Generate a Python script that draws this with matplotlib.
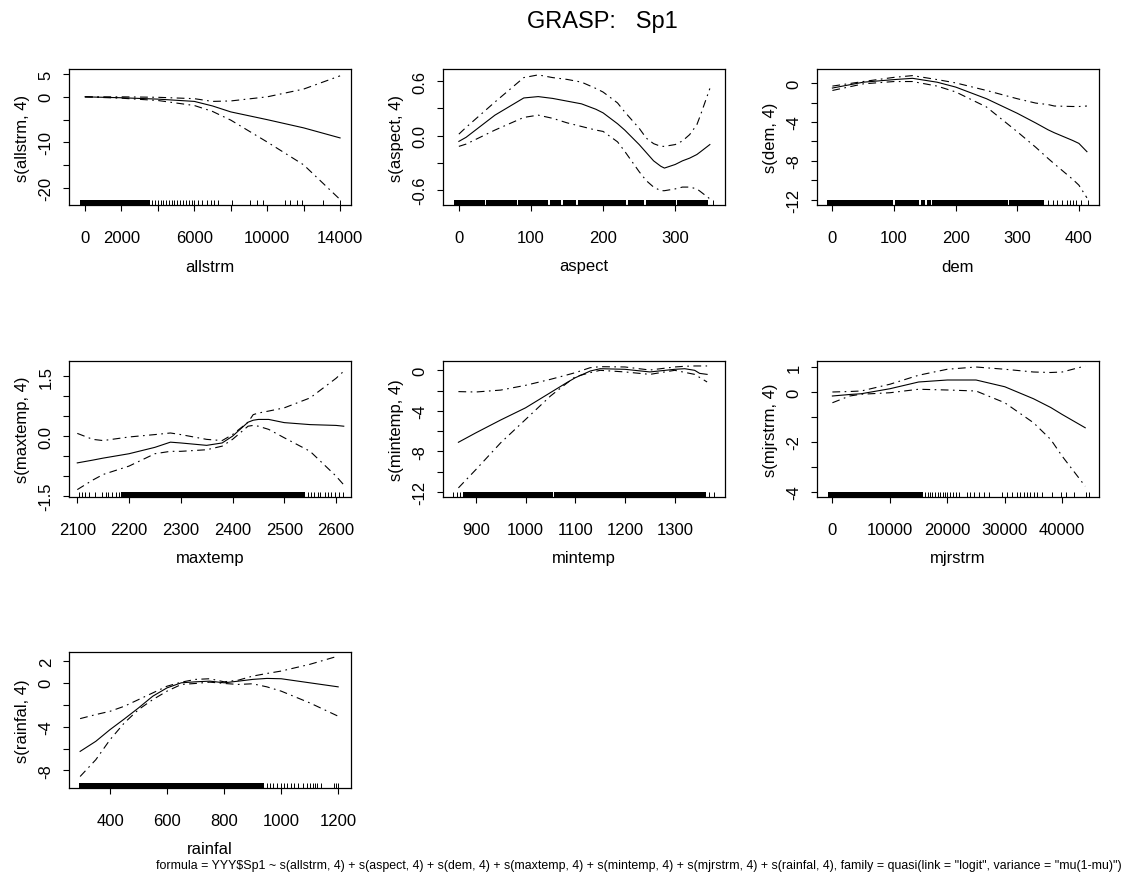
import numpy as np
import matplotlib
matplotlib.use('Agg')
import matplotlib.pyplot as plt

plt.rcParams['font.family'] = ['Liberation Sans', 'DejaVu Sans']

# ---- values ----

# allstrm
allstrm_x = [0, 2000, 4000, 6000, 7000, 8000, 10000, 12000, 14000]
allstrm_fit = [0.0, -0.2, -0.5, -1.0, -2.0, -3.3, -5.0, -6.8, -9.0]
allstrm_up = [0.0, 0.0, -0.1, -0.4, -1.0, -0.9, 0.0, 1.7, 4.6]
allstrm_lo = [0.0, -0.3, -0.8, -1.9, -3.2, -5.1, -9.9, -14.9, -22.5]
allstrm_rug_spans = [(-270, 3570)]
allstrm_rug = [3700, 3850, 4000, 4150, 4300, 4450, 4600, 4750, 4900, 5050, 5200,
               5400, 5550, 5700, 5850, 6000, 6200, 6400, 6700, 6900, 7100, 7300,
               8050, 9060, 9425, 9790, 10980, 11255, 11620, 11900, 13085, 14000]

# aspect
aspect_x = [0, 10, 50, 90, 110, 130, 150, 170, 190, 200, 220, 230, 250, 260, 270,
            280, 285, 300, 310, 320, 330, 335, 348]
aspect_fit = [-0.065, -0.02, 0.225, 0.415, 0.43, 0.41, 0.38, 0.35, 0.29, 0.25, 0.13,
              0.06, -0.10, -0.19, -0.28, -0.34, -0.36, -0.32, -0.28, -0.25, -0.21,
              -0.18, -0.10]
aspect_up = [0.015, 0.09, 0.37, 0.64, 0.67, 0.64, 0.62, 0.59, 0.52, 0.48, 0.36,
             0.26, 0.08, -0.03, -0.09, -0.12, -0.12, -0.10, -0.06, 0.01, 0.12,
             0.225, 0.52]
aspect_lo = [-0.12, -0.095, 0.06, 0.2, 0.225, 0.19, 0.14, 0.10, 0.06, 0.045, -0.07,
             -0.175, -0.40, -0.5, -0.57, -0.61, -0.61, -0.59, -0.57, -0.57, -0.59,
             -0.62, -0.70]
aspect_rug_spans = [(-7, 36), (38, 80), (82, 124), (126, 142), (144, 163),
                    (165, 232), (234, 257), (259, 301), (303, 345)]
aspect_rug = [353]

# dem
dem_x = [0, 50, 100, 130, 170, 200, 250, 300, 330, 350, 360, 390, 400, 413]
dem_fit = [-0.5, 0.1, 0.37, 0.5, 0.1, -0.4, -1.6, -3.1, -4.1, -4.8, -5.1, -5.9, -6.2, -7.05]
dem_up = [-0.3, 0.17, 0.6, 0.78, 0.37, 0.03, -0.75, -1.6, -2.05, -2.2, -2.35, -2.4, -2.4, -2.35]
dem_lo = [-0.75, -0.07, 0.17, 0.17, -0.3, -0.9, -2.45, -5.0, -6.6, -7.75, -8.3, -9.9, -10.5, -11.8]
dem_rug_spans = [(-9, 99), (101, 141), (143, 151), (153, 160), (162, 285), (287, 343)]
dem_rug = [350, 358, 365, 372, 380, 386, 391, 396, 404, 414]

# maxtemp
maxtemp_x = [2100, 2130, 2150, 2200, 2250, 2280, 2300, 2350, 2380, 2400, 2430,
             2440, 2450, 2470, 2500, 2550, 2600, 2615]
maxtemp_fit = [-0.67, -0.6, -0.55, -0.44, -0.28, -0.15, -0.17, -0.23, -0.17, 0.0,
               0.35, 0.40, 0.42, 0.42, 0.34, 0.29, 0.27, 0.25]
maxtemp_up = [0.07, -0.08, -0.11, -0.02, 0.04, 0.08, 0.04, -0.08, -0.11, 0.04,
              0.35, 0.54, 0.58, 0.63, 0.71, 0.96, 1.45, 1.63]
maxtemp_lo = [-1.34, -1.1, -0.96, -0.75, -0.44, -0.38, -0.38, -0.34, -0.25, -0.08,
              0.25, 0.27, 0.25, 0.17, -0.04, -0.38, -1.0, -1.22]
maxtemp_rug_spans = [(2185, 2540)]
maxtemp_rug = [2103, 2110, 2115, 2122, 2135, 2148, 2155, 2160, 2168, 2175, 2180,
               2545, 2552, 2558, 2565, 2570, 2578, 2585, 2590, 2598, 2606, 2614]

# mintemp
mintemp_x = [865, 900, 950, 1000, 1050, 1080, 1100, 1130, 1150, 1200, 1250, 1300,
             1320, 1340, 1350, 1365]
mintemp_fit = [-7.1, -6.17, -4.9, -3.7, -2.2, -1.3, -0.73, -0.07, 0.16, 0.1, -0.16,
               0.1, 0.16, 0.0, -0.3, -0.4]
mintemp_up = [-2.1, -2.14, -1.95, -1.48, -0.89, -0.5, -0.23, 0.26, 0.36, 0.33, 0.03,
              0.33, 0.4, 0.43, 0.43, 0.43]
mintemp_lo = [-11.6, -9.8, -7.15, -4.85, -2.54, -1.38, -0.63, -0.23, 0.0, -0.16,
              -0.4, 0.0, -0.2, -0.4, -0.7, -1.15]
mintemp_rug_spans = [(874, 1056), (1058, 1362)]
mintemp_rug = [855, 862, 868, 1368, 1378]

# mjrstrm
mjrstrm_x = [0, 3000, 5000, 10000, 15000, 20000, 25000, 30000, 35000, 38000, 40000, 44000]
mjrstrm_fit = [-0.16, -0.1, -0.07, 0.13, 0.40, 0.48, 0.48, 0.21, -0.27, -0.62, -0.9, -1.43]
mjrstrm_up = [0.0, 0.02, 0.04, 0.31, 0.67, 0.91, 1.0, 0.91, 0.80, 0.78, 0.8, 1.04]
mjrstrm_lo = [-0.43, -0.16, -0.09, -0.03, 0.11, 0.08, 0.04, -0.43, -1.23, -1.9, -2.57, -3.77]
mjrstrm_rug_spans = [(-750, 15800)]
mjrstrm_rug = [16200, 16600, 17000, 17400, 17900, 18300, 18800, 19200, 19600, 20000,
               20500, 21000, 21500, 22000, 23406, 23988, 24570, 25444, 26317, 27190,
               29520, 30393, 31266, 32140, 32722, 33304, 33886, 34469, 35051, 35633,
               36507, 38253, 39709, 40582, 42038, 44076, 44658]

# rainfal
rainfal_x = [295, 350, 400, 450, 500, 550, 600, 650, 700, 750, 800, 850, 900, 950,
             1000, 1100, 1200]
rainfal_fit = [-6.26, -5.34, -4.27, -3.3, -2.29, -1.22, -0.46, 0.0, 0.09, 0.15, 0.0,
               0.15, 0.31, 0.4, 0.37, 0.0, -0.37]
rainfal_up = [-3.27, -2.9, -2.6, -2.14, -1.53, -0.92, -0.31, 0.06, 0.31, 0.37, 0.09,
              0.24, 0.61, 0.85, 1.07, 1.68, 2.44]
rainfal_lo = [-8.55, -7.02, -5.19, -3.66, -2.44, -1.53, -0.76, -0.15, -0.06, 0.06,
              -0.06, -0.15, -0.09, -0.37, -0.76, -1.83, -3.05]
rainfal_rug_spans = [(290, 940)]
rainfal_rug = [950, 960, 970, 985, 1000, 1010, 1020, 1035, 1045, 1060, 1075, 1090,
               1100, 1110, 1120, 1127, 1139, 1186, 1192, 1198]

formula = ('formula = YYY$Sp1 ~ s(allstrm, 4) + s(aspect, 4) + s(dem, 4) + s(maxtemp, 4) + '
           's(mintemp, 4) + s(mjrstrm, 4) + s(rainfal, 4), family = quasi(link = "logit", '
           'variance = "mu(1-mu)")')

# ---- panel setup: name, data, axis limits, ticks ----
panels = [
    ('allstrm', allstrm_x, allstrm_fit, allstrm_up, allstrm_lo, allstrm_rug_spans, allstrm_rug,
     (-880, 14600), (-23.7, 6.1),
     [0, 2000, 4000, 6000, 8000, 10000, 12000, 14000],
     ['0', '2000', '', '6000', '', '10000', '', '14000'],
     [5, 0, -5, -10, -15, -20], ['5', '0', '', '-10', '', '-20']),
    ('aspect', aspect_x, aspect_fit, aspect_up, aspect_lo, aspect_rug_spans, aspect_rug,
     (-22, 369), (-0.768, 0.735),
     [0, 100, 200, 300], ['0', '100', '200', '300'],
     [0.6, 0.3, 0.0, -0.3, -0.6], ['0.6', '', '0.0', '', '-0.6']),
    ('dem', dem_x, dem_fit, dem_up, dem_lo, dem_rug_spans, dem_rug,
     (-25, 432.6), (-12.54, 1.46),
     [0, 100, 200, 300, 400], ['0', '100', '200', '300', '400'],
     [0, -2, -4, -6, -8, -10, -12], ['0', '', '-4', '', '-8', '', '-12']),
    ('maxtemp', maxtemp_x, maxtemp_fit, maxtemp_up, maxtemp_lo, maxtemp_rug_spans, maxtemp_rug,
     (2084, 2629), (-1.525, 1.885),
     [2100, 2200, 2300, 2400, 2500, 2600], ['2100', '2200', '2300', '2400', '2500', '2600'],
     [1.5, 1.0, 0.5, 0.0, -0.5, -1.0, -1.5], ['1.5', '', '', '0.0', '', '', '-1.5']),
    ('mintemp', mintemp_x, mintemp_fit, mintemp_up, mintemp_lo, mintemp_rug_spans, mintemp_rug,
     (834, 1401), (-12.5, 0.92),
     [900, 1000, 1100, 1200, 1300], ['900', '1000', '1100', '1200', '1300'],
     [0, -2, -4, -6, -8, -10, -12], ['0', '', '-4', '', '-8', '', '-12']),
    ('mjrstrm', mjrstrm_x, mjrstrm_fit, mjrstrm_up, mjrstrm_lo, mjrstrm_rug_spans, mjrstrm_rug,
     (-2680, 46400), (-4.2, 1.24),
     [0, 10000, 20000, 30000, 40000], ['0', '10000', '20000', '30000', '40000'],
     [1, 0, -1, -2, -3, -4], ['1', '0', '', '-2', '', '-4']),
    ('rainfal', rainfal_x, rainfal_fit, rainfal_up, rainfal_lo, rainfal_rug_spans, rainfal_rug,
     (256, 1245), (-9.6, 2.81),
     [400, 600, 800, 1000, 1200], ['400', '600', '800', '1000', '1200'],
     [2, 0, -2, -4, -6, -8], ['2', '0', '', '-4', '', '-8']),
]

W, H = 1129, 878
fig = plt.figure(figsize=(W / 100, H / 100), dpi=100)

col_left = [69, 443, 817]
row_top = [70, 362, 653]
ax_w, ax_h = 282, 136
dashdot = (0, (7, 4, 1.5, 4))

for i, p in enumerate(panels):
    name, x, fit, up, lo, spans, rug, xl, yl, xt, xtl, yt, ytl = p
    r, c = divmod(i, 3)
    ax = fig.add_axes([col_left[c] / W, 1 - (row_top[r] + ax_h) / H, ax_w / W, ax_h / H])

    ax.plot(x, fit, color='black', lw=0.8)
    ax.plot(x, up, color='black', lw=0.8, ls=dashdot)
    ax.plot(x, lo, color='black', lw=0.8, ls=dashdot)

    # rug along the bottom
    for a, b in spans:
        ax.axvspan(a, b, ymin=0, ymax=0.035, color='black', lw=0)
    ax.vlines(rug, 0, 0.04, transform=ax.get_xaxis_transform(), color='black', lw=0.7)

    ax.set_xlim(xl)
    ax.set_ylim(yl)
    ax.set_xticks(xt)
    ax.set_xticklabels(xtl)
    ax.set_yticks(yt)
    ax.set_yticklabels(ytl, rotation=90, va='center')
    ax.tick_params(direction='out', length=4, width=0.8, labelsize=12)
    ax.tick_params(axis='x', pad=14)
    ax.tick_params(axis='y', pad=7)
    for s in ax.spines.values():
        s.set_linewidth(0.9)

    ax.set_xlabel(name, fontsize=12)
    ax.xaxis.set_label_coords(0.5, -(268 - 207) / ax_h)
    ax.xaxis.label.set_va('center')
    ax.set_ylabel('s(%s, 4)' % name, fontsize=12)
    ax.yaxis.set_label_coords(-(69 - 23) / ax_w, 0.5)
    ax.yaxis.label.set_va('center')

fig.text(602 / W, 1 - 22 / H, 'GRASP:   Sp1', fontsize=17, ha='center', va='center')
fig.text(1122 / W, 1 - 866 / H, formula, fontsize=8.9, ha='right', va='center',
         family=['Liberation Sans Narrow', 'Liberation Sans'])

fig.savefig('out.png', dpi=100)
